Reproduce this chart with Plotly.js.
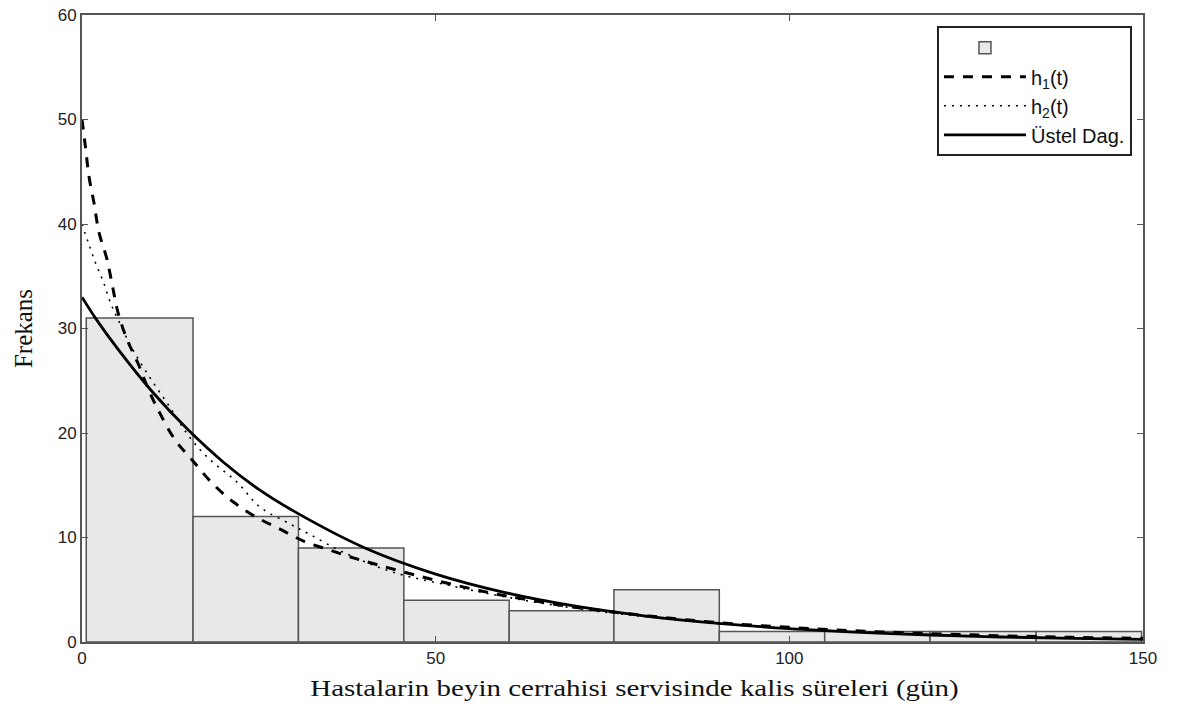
<!DOCTYPE html>
<html>
<head>
<meta charset="utf-8">
<script src="https://cdn.plot.ly/plotly-3.0.1.min.js"></script>
<style>
html,body{margin:0;padding:0;background:#fff;}
#chart{width:1190px;height:713px;}
#chart .xtitle{transform-box:fill-box;transform-origin:center;transform:translateX(22px) scaleX(1.26);}
</style>
</head>
<body>
<div id="chart"></div>
<script>
// Histogram bins (days) and counts
const binEdges = [0.6, 15.7, 30.6, 45.5, 60.4, 75.2, 90.1, 105.0, 119.9, 134.9, 149.8];
const counts = [31, 12, 9, 4, 3, 5, 1, 1, 1, 1];

// h1(t) curve
const h1T = [0, 0.5, 1, 1.7, 2.4, 3.5, 4.3, 5.1, 6.4, 7.9, 9.5, 11, 13.2, 15.6, 18.4, 21.4, 24.5, 28, 31.5, 35, 38.6, 42, 46, 50, 55, 60, 70, 80, 90, 100, 110, 120, 130, 140, 150];
const h1V = [50, 47.3, 44.5, 42, 39.2, 36.7, 34.1, 31.5, 28.9, 26.7, 24, 21.9, 19.3, 17.4, 15.2, 13.4, 12.0, 10.8, 9.6, 8.8, 8.0, 7.35, 6.6, 5.9, 5.1, 4.4, 3.3, 2.5, 1.85, 1.4, 1.05, 0.8, 0.6, 0.45, 0.35];

// h2(t) curve
const h2T = [0, 0.9, 1.9, 3.0, 4.0, 5.0, 7, 9.6, 12.4, 15, 17.7, 21.9, 25.2, 29.4, 32.2, 36.9, 43.9, 52, 60, 70, 80, 90, 100, 110, 120, 130, 140, 150];
const h2V = [40, 38.2, 36.3, 34.5, 32.5, 31.0, 28.2, 25.3, 22.5, 19.8, 17.7, 15.3, 12.9, 11.3, 10.3, 8.6, 6.7, 5.4, 4.3, 3.2, 2.4, 1.75, 1.3, 0.95, 0.7, 0.5, 0.38, 0.28];

// Exponential distribution (Üstel Dag.)
const expT = [0, 2, 5, 10, 15, 20, 25, 30, 40, 50, 60, 70, 80, 90, 100, 110, 120, 130, 140, 150];
const expV = [33, 30.9, 28.1, 23.9, 20.3, 17.2, 14.6, 12.5, 9.0, 6.5, 4.7, 3.4, 2.46, 1.78, 1.28, 0.93, 0.67, 0.48, 0.35, 0.25];

const xTicks = [0, 50, 100, 150];
const yTicks = [0, 10, 20, 30, 40, 50, 60];
const xTitle = 'Hastalarin beyin cerrahisi servisinde kalis süreleri (gün)';
const yTitle = 'Frekans';
const names = ['', 'h<sub>1</sub>(t)', 'h<sub>2</sub>(t)', 'Üstel Dag.'];

const centers = counts.map((c, i) => (binEdges[i] + binEdges[i + 1]) / 2);
const widths = counts.map((c, i) => binEdges[i + 1] - binEdges[i]);

const traces = [
  {type: 'bar', x: centers, y: counts, width: widths, name: names[0], legendgroup: 'g0',
   marker: {color: '#e8e8e8', line: {color: '#555555', width: 1.5}}},
  {type: 'scatter', mode: 'lines', x: h1T, y: h1V, name: names[1], legendgroup: 'g1',
   line: {color: '#000', width: 3, dash: '10px,9px', shape: 'spline'}},
  {type: 'scatter', mode: 'lines', x: h2T, y: h2V, name: names[2], legendgroup: 'g2',
   line: {color: '#000', width: 1.6, dash: '2px,6px', shape: 'spline'}},
  {type: 'scatter', mode: 'lines', x: expT, y: expV, name: names[3], legendgroup: 'g3',
   line: {color: '#000', width: 2.8, shape: 'spline'}}
];

const axisCommon = {
  showgrid: false, zeroline: false, showline: true, linecolor: '#555', linewidth: 2,
  mirror: 'ticks', ticks: 'inside', ticklen: 6, tickcolor: '#555', tickwidth: 1,
  tickfont: {family: 'Liberation Sans, Arial, sans-serif', size: 17, color: '#222'}
};

const layout = {
  width: 1190, height: 713,
  margin: {l: 82, r: 47, t: 15, b: 71},
  paper_bgcolor: '#fff', plot_bgcolor: '#fff',
  bargap: 0,
  showlegend: true,
  legend: {x: 0.9896, y: 0.982, xanchor: 'right', yanchor: 'top',
    bgcolor: '#fff', bordercolor: '#222', borderwidth: 2, itemwidth: 82,
    traceorder: 'normal', tracegroupgap: 18,
    font: {family: 'Liberation Sans, Arial, sans-serif', size: 20, color: '#111'}},
  xaxis: Object.assign({}, axisCommon, {range: [0, 150], tickvals: xTicks, ticktext: xTicks.map(String),
    title: {text: xTitle, standoff: 13, font: {family: 'Liberation Serif, Times New Roman, serif', size: 23, color: '#111'}}}),
  yaxis: Object.assign({}, axisCommon, {range: [0, 60], tickvals: yTicks, ticktext: yTicks.map(String),
    title: {text: yTitle, standoff: 18, font: {family: 'Liberation Serif, Times New Roman, serif', size: 25, color: '#111'}}})
};

Plotly.newPlot('chart', traces, layout, {displayModeBar: false, staticPlot: true});
</script>
</body>
</html>
